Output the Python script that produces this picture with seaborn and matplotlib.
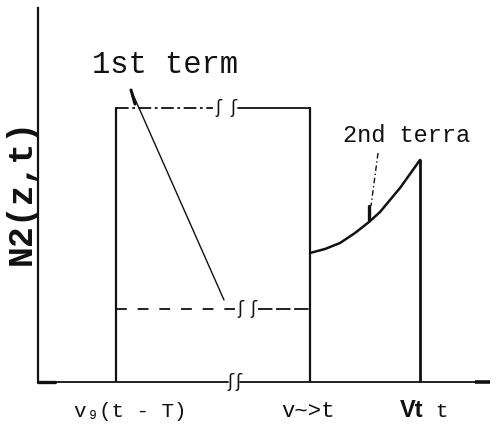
import matplotlib
matplotlib.use("Agg")
import matplotlib.pyplot as plt
import seaborn as sns
import pandas as pd

sns.set_style("white")

# Positions along the z axis (arbitrary units)
x_rect_left = 0.78      # v9 (t - T)
x_rect_right = 2.72     # v~>t
x_end = 3.82            # Vt t
x_max = 4.59

# Levels of N2(z, t)
level_first = 2.74      # 1st term, full height
level_dashed = 0.73     # 1st term, reduced level
y_max = 3.74

# 2nd term: rising curve between v~>t and Vt
curve_x = [2.72, 2.87, 3.02, 3.17, 3.31, 3.42, 3.52, 3.62, 3.72, 3.82]
curve_y = [1.29, 1.33, 1.39, 1.49, 1.60, 1.70, 1.82, 1.94, 2.08, 2.22]

tick_labels = ["v₉(t - T)", "v~>t"]
term_labels = ["1st term", "2nd terra"]
y_label = "N2(z,t)"

mono = ["Liberation Mono", "DejaVu Sans Mono"]
ink = "#111111"

fig = plt.figure(figsize=(4.97, 4.37), dpi=100)
ax = fig.add_axes([38 / 497, 55 / 437, 459 / 497, 374 / 437])
ax.set_xlim(0, x_max)
ax.set_ylim(0, y_max)
ax.set_xticks([])
ax.set_yticks([])
for side in ["top", "right", "bottom"]:
    ax.spines[side].set_visible(False)
ax.spines["left"].set_linewidth(1.6)
ax.spines["left"].set_color(ink)

lw = 1.3

# x axis, with a break and an arrow head at the end
ax.plot([0, 1.90], [0, 0], color=ink, lw=lw, clip_on=False)
ax.plot([2.02, 4.40], [0, 0], color=ink, lw=lw, clip_on=False)
ax.plot([4.37, 4.52], [0, 0], color=ink, lw=2.6, clip_on=False, solid_capstyle="butt")
ax.plot([0, 0.17], [0, 0], color=ink, lw=2.4, clip_on=False)

# 1st term: rectangle block with broken top and dashed lower level
ax.plot([x_rect_left, x_rect_left], [0, level_first], color=ink, lw=1.6)
ax.plot([x_rect_right, x_rect_right], [0, level_first], color=ink, lw=1.6)
ax.plot([x_rect_left, 1.75], [level_first, level_first], color=ink, lw=lw,
        linestyle=(0, (7, 2, 1.5, 2)))
ax.plot([2.00, x_rect_right], [level_first, level_first], color=ink, lw=lw)
ax.plot([x_rect_left, 1.97], [level_dashed, level_dashed], color=ink, lw=lw,
        linestyle=(0, (6, 6)))
ax.plot([2.20, x_rect_right], [level_dashed, level_dashed], color=ink, lw=lw,
        linestyle=(0, (8, 2)))

# break marks
for bx, by in [(1.80, level_first), (1.95, level_first),
               (2.02, level_dashed), (2.15, level_dashed),
               (1.92, 0.0), (2.00, 0.0)]:
    ax.text(bx, by, "ʃ", ha="center", va="center", fontsize=13,
            color=ink, family="DejaVu Sans", clip_on=False)

# 2nd term curve and the closing vertical line
df = pd.DataFrame({"z": curve_x, "N": curve_y})
sns.lineplot(data=df, x="z", y="N", ax=ax, color=ink, lw=1.8)
ax.plot([x_end, x_end], [0, curve_y[-1]], color=ink, lw=2.0)

# leader from "1st term" to the reduced level
ax.plot([0.93, 1.86], [2.92, 0.82], color=ink, lw=1.0)
ax.plot([0.93, 0.97], [2.92, 2.78], color=ink, lw=2.2)

# leader from "2nd terra" to the curve
ax.plot([3.40, 3.33], [2.29, 1.76], color=ink, lw=1.0, linestyle=(0, (4, 2, 1, 2)))
ax.plot([3.31, 3.31], [1.76, 1.62], color=ink, lw=2.4)

# annotations
ax.text(0.54, 3.09, term_labels[0], fontsize=22, family=mono, color=ink,
        ha="left", va="baseline")
ax.text(3.05, 2.40, term_labels[1], fontsize=17, family=mono, color=ink,
        ha="left", va="baseline")

# labels under the axis
ax.text(0.92, -0.35, tick_labels[0], fontsize=15, family=mono, color=ink,
        ha="center", va="baseline", clip_on=False)
ax.text(2.70, -0.35, tick_labels[1], fontsize=16, family=mono, color=ink,
        ha="center", va="baseline", clip_on=False)
ax.text(3.62, -0.35, "Vt", fontsize=17, family="Liberation Sans", color=ink,
        ha="left", va="baseline", fontweight="bold", clip_on=False)
ax.text(3.97, -0.35, "t", fontsize=15, family=mono, color=ink,
        ha="left", va="baseline", clip_on=False)

# vertical axis label
ax.text(-0.17, 1.90, y_label, fontsize=25, family=mono, color=ink,
        rotation=90, ha="center", va="center", fontweight="bold", clip_on=False)

fig.savefig("out.png", dpi=100, facecolor="white")
